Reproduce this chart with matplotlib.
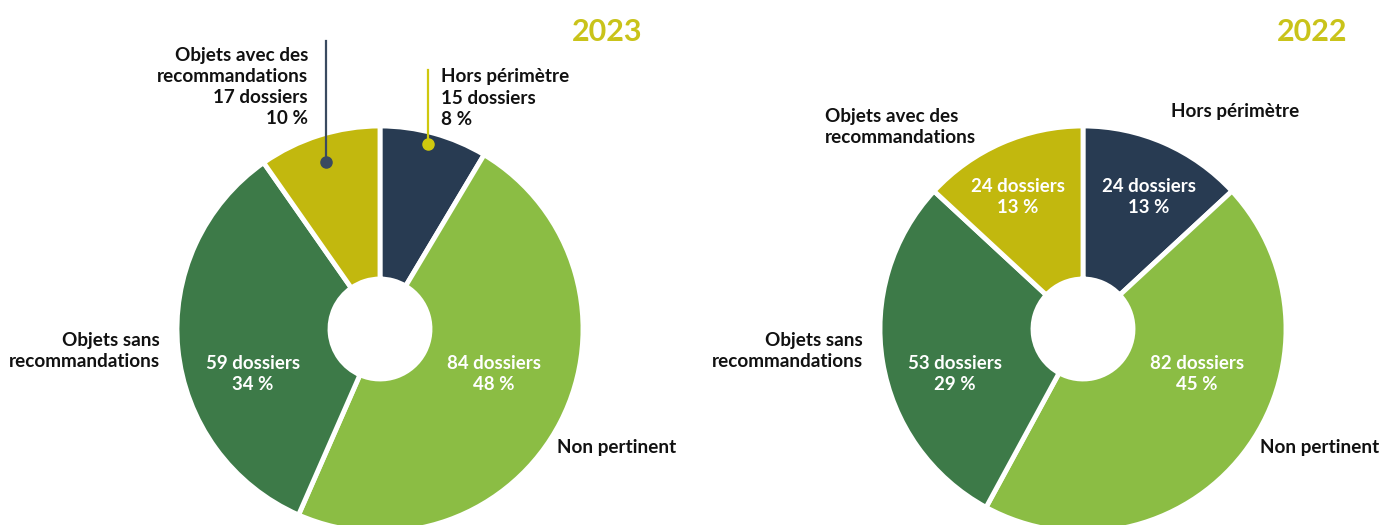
import matplotlib.pyplot as plt

plt.rcParams['font.family'] = ['Lato', 'DejaVu Sans']

categories = ['Hors périmètre', 'Non pertinent', 'Objets sans recommandations',
              'Objets avec des recommandations']
dossiers_2023 = [15, 84, 59, 17]
pct_2023 = [8, 48, 34, 10]
dossiers_2022 = [24, 82, 53, 24]
pct_2022 = [13, 45, 29, 13]

colors = ['#283b52', '#8bbd44', '#3d7a48', '#c2b80e']
title_color = '#c9c31a'

W, H = 1382, 525
fig = plt.figure(figsize=(W / 100, H / 100), dpi=100)
ax = fig.add_axes([0, 0, 1, 1])

R = 203
HOLE = 50


def Y(y):
    # work in pixel coords measured from the top
    return H - y


def donut(cx, cy, values):
    ax.pie(values, colors=colors, startangle=90, counterclock=False,
           radius=R, center=(cx, Y(cy)),
           wedgeprops=dict(width=R - HOLE, edgecolor='white', linewidth=3.5))


def label(x, y, txt, ha='left', color='#111111', weight='bold', size=13.6):
    ax.text(x, Y(y), txt, ha=ha, va='center', color=color, fontsize=size,
            fontweight=weight, linespacing=1.3)


def inside(x, y, n, p):
    label(x, y, f'{n} dossiers\n{p} %', ha='center', color='white',
          weight='bold', size=13.4)


# 2023
donut(380, 329, dossiers_2023)
ax.text(642, Y(32), '2023', ha='right', va='center', color=title_color,
        fontsize=22, fontweight='bold')
ax.plot([326, 326], [Y(41), Y(162)], color='#3a4a60', lw=1.6)
ax.plot(326, Y(162), 'o', color='#3a4a60', ms=8)
ax.plot([428, 428], [Y(70), Y(144)], color='#cfc80e', lw=1.6)
ax.plot(428, Y(144), 'o', color='#cfc80e', ms=8)
label(308, 87, f'Objets avec des\nrecommandations\n{dossiers_2023[3]} dossiers\n{pct_2023[3]} %', ha='right')
label(441, 98, f'Hors périmètre\n{dossiers_2023[0]} dossiers\n{pct_2023[0]} %')
label(160, 351, 'Objets sans\nrecommandations', ha='right')
label(557, 447, 'Non pertinent')
inside(253, 374, dossiers_2023[2], pct_2023[2])
inside(494, 374, dossiers_2023[1], pct_2023[1])

# 2022
donut(1083, 329, dossiers_2022)
ax.text(1347, Y(32), '2022', ha='right', va='center', color=title_color,
        fontsize=22, fontweight='bold')
label(1171, 112, 'Hors périmètre')
label(825, 127, 'Objets avec des\nrecommandations')
label(863, 351, 'Objets sans\nrecommandations', ha='right')
label(1260, 447, 'Non pertinent')
inside(1018, 197, dossiers_2022[3], pct_2022[3])
inside(1149, 197, dossiers_2022[0], pct_2022[0])
inside(955, 374, dossiers_2022[2], pct_2022[2])
inside(1197, 374, dossiers_2022[1], pct_2022[1])

ax.set_xlim(0, W)
ax.set_ylim(0, H)
ax.set_aspect('equal')
ax.axis('off')

fig.savefig('out.png', dpi=100)
